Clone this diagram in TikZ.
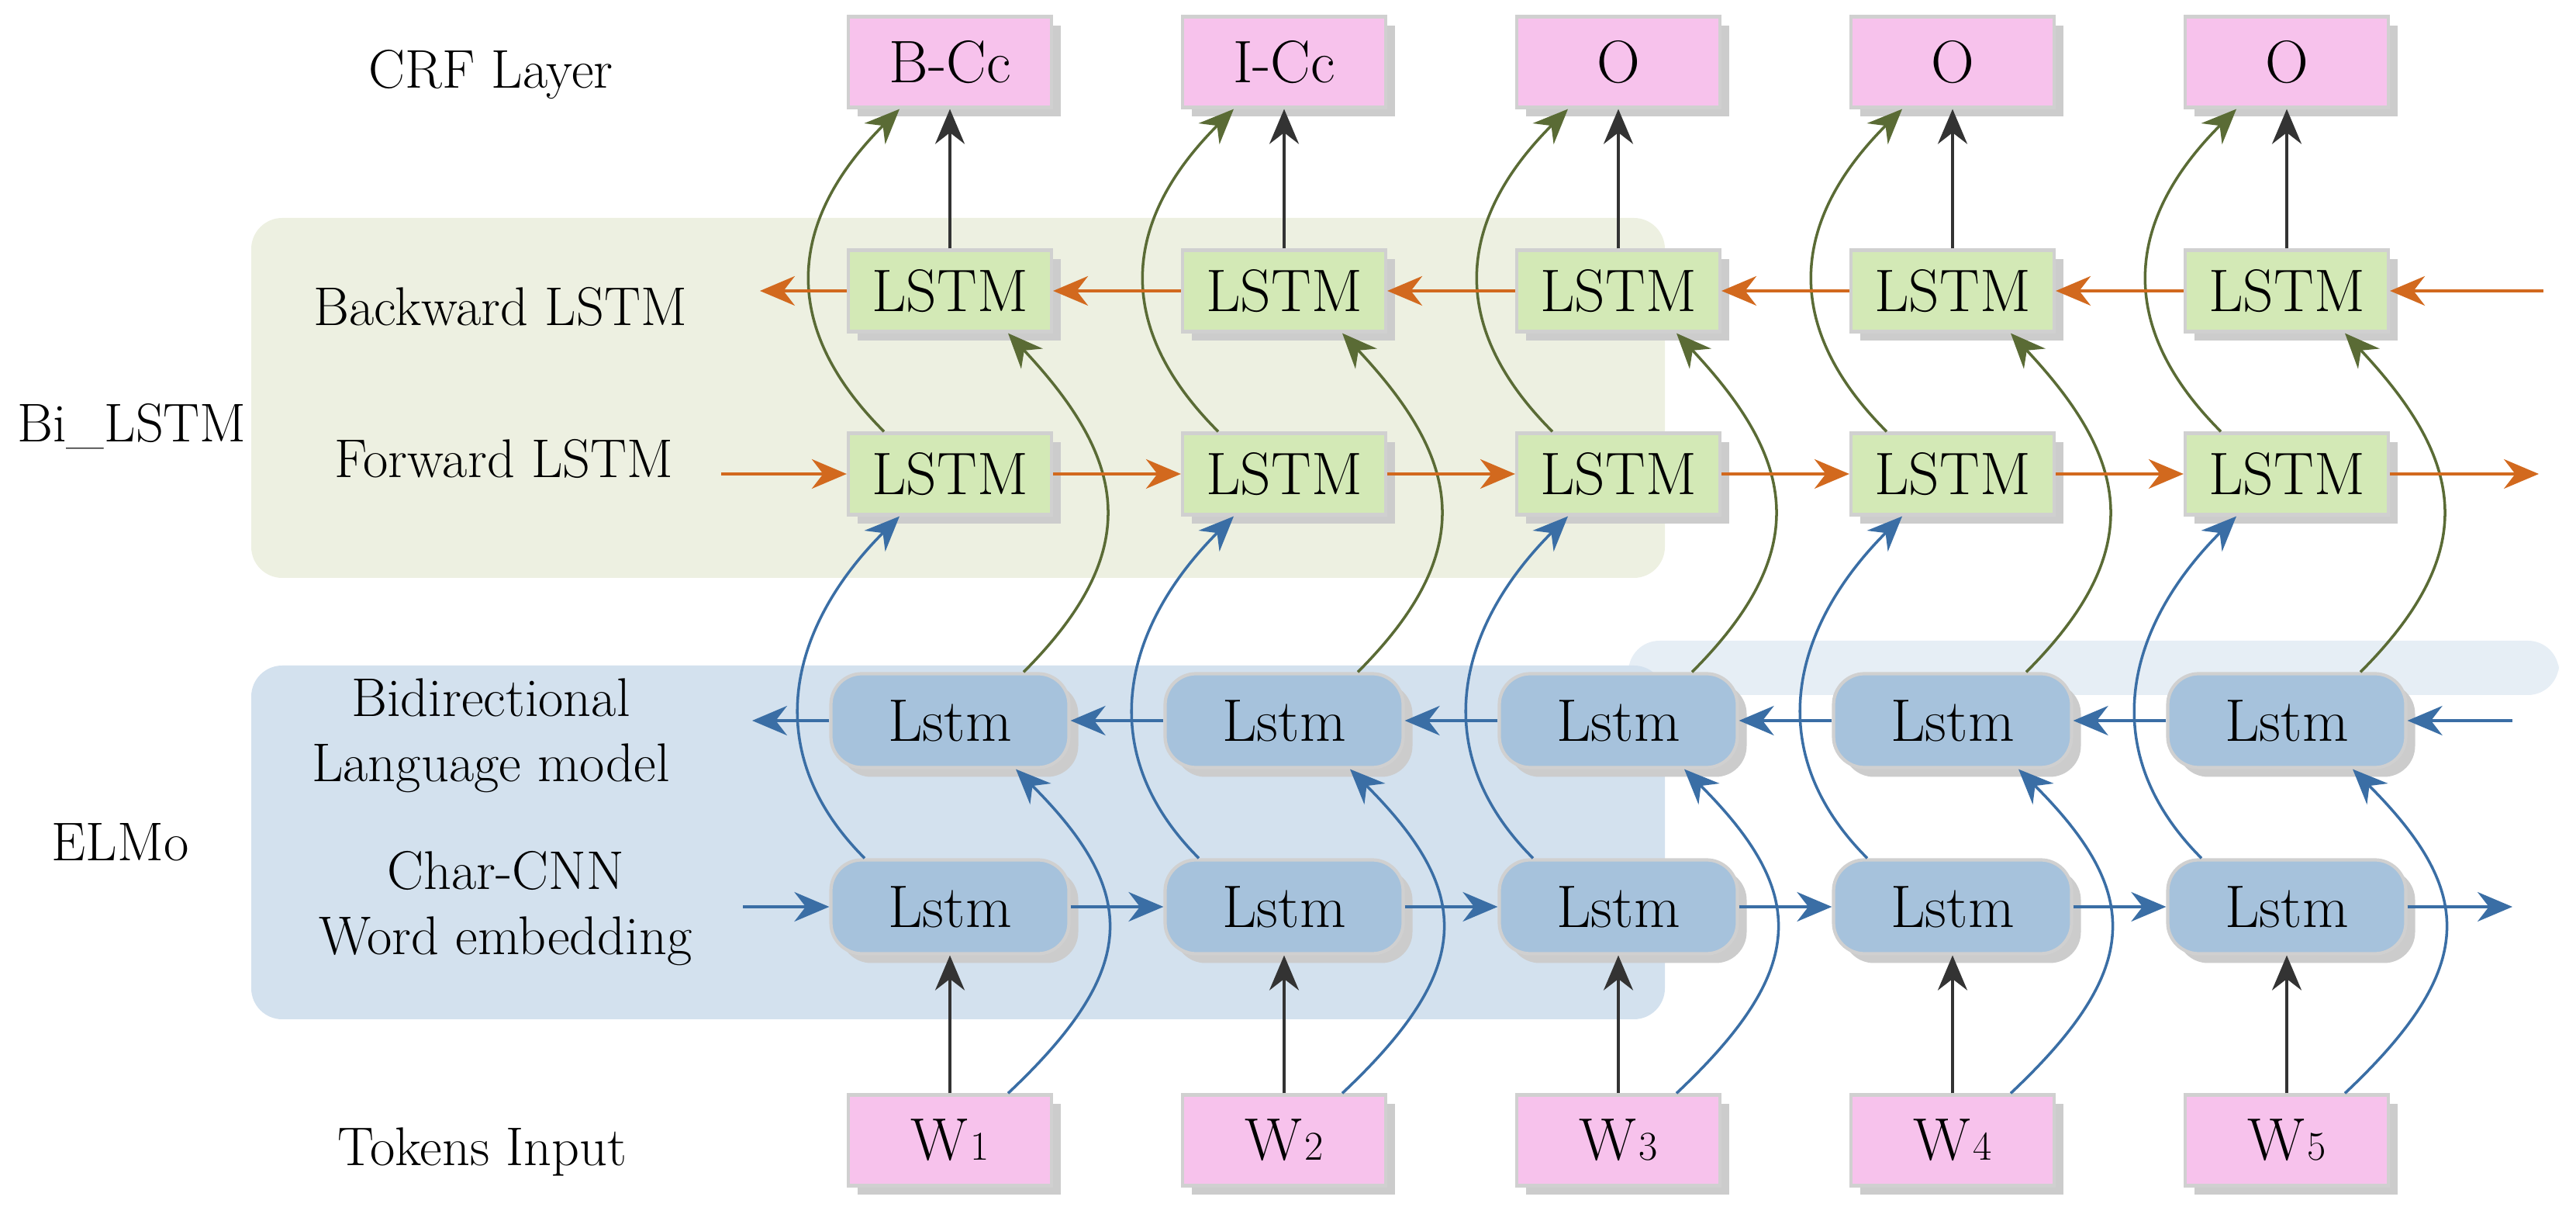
\documentclass[tikz,border=0pt]{standalone}
\usetikzlibrary{arrows.meta,shadows}
\definecolor{pinkf}{HTML}{F7C2EC}
\definecolor{greenf}{HTML}{D3E9B6}
\definecolor{bluef}{HTML}{A6C2DC}
\definecolor{bggreen}{HTML}{EDF0E1}
\definecolor{bgblue}{HTML}{D3E1EE}
\definecolor{bgblue2}{HTML}{E6EEF5}
\definecolor{orangea}{HTML}{D2691E}
\definecolor{bluea}{HTML}{3A6EA5}
\definecolor{greena}{HTML}{5A6B35}
\definecolor{boxline}{HTML}{D0D0D0}
\begin{document}
\begin{tikzpicture}[
  font=\fontsize{20}{24}\selectfont,
  base/.style={draw=boxline,line width=1.2pt,drop shadow={shadow xshift=0.12cm,shadow yshift=-0.12cm,fill=black!20,opacity=1}},
  crf/.style={base,fill=pinkf,minimum width=2.62cm,minimum height=1.17cm,font=\fontsize{22}{24}\selectfont},
  lstm/.style={base,fill=greenf,minimum width=2.62cm,minimum height=1.05cm,font=\fontsize{22}{24}\selectfont},
  lm/.style={base,fill=bluef,rounded corners=0.4cm,minimum width=3.07cm,minimum height=1.21cm,font=\fontsize{22}{24}\selectfont},
  oar/.style={-{Stealth[length=0.45cm,width=0.38cm,fill=orangea]},draw=orangea,line width=1pt},
  bar/.style={-{Stealth[length=0.45cm,width=0.38cm,fill=bluea]},draw=bluea,line width=1pt},
  gar/.style={-{Stealth[length=0.45cm,width=0.38cm,fill=greena]},draw=greena,line width=1pt},
  kar/.style={-{Stealth[length=0.45cm,width=0.38cm,fill=black!80]},draw=black!80,line width=1pt},
  lab/.style={align=center}
]
\useasboundingbox (0,0) rectangle (33.22,15.56);
\fill[bggreen,rounded corners=0.4cm] (3.24,8.11) rectangle (21.47,12.75);
\fill[bgblue2,rounded corners=0.4cm] (21.0,6.6) rectangle (33.0,7.30);
\fill[bgblue,rounded corners=0.4cm] (3.24,2.42) rectangle (21.47,6.98);

\node[lab] (tcrf) at (6.33,14.60) {CRF Layer};
\node[lab] (tbw) at (6.45,11.60) {Backward LSTM};
\node[lab] (tbi) at (1.70,10.06) {Bi\_LSTM};
\node[lab] (tfw) at (6.50,9.64) {Forward LSTM};
\node[lab] (tlm) at (6.33,6.08) {Bidirectional\\Language model};
\node[lab] (telmo) at (1.55,4.70) {ELMo};
\node[lab] (tcnn) at (6.52,3.85) {Char-CNN\\Word embedding};
\node[lab] (ttok) at (6.22,0.71) {Tokens Input};

\foreach \i/\x/\lbl in {1/12.25/B-Cc,2/16.56/I-Cc,3/20.87/O,4/25.18/O,5/29.49/O}{
  \node[crf] (c\i) at (\x,14.76) {\lbl};
  \node[lstm] (b\i) at (\x,11.81) {LSTM};
  \node[lstm] (f\i) at (\x,9.45) {LSTM};
  \node[lm] (l\i) at (\x,6.27) {Lstm};
  \node[lm] (e\i) at (\x,3.87) {Lstm};
  \node[crf] (w\i) at (\x,0.86) {W\kern1pt{\fontsize{15}{15}\selectfont\i}};
  \draw[kar] (b\i.north) -- (c\i.south);
  \draw[kar] (w\i.north) -- (e\i.south);
  \draw[gar] ([xshift=-0.85cm]f\i.north) .. controls +(-1.4,1.4) and +(-1.4,-1.4) .. ([xshift=-0.65cm]c\i.south);
  \draw[gar] ([xshift=0.95cm]l\i.north) .. controls +(1.6,1.6) and +(1.5,-1.6) .. ([xshift=0.75cm]b\i.south);
  \draw[bar] ([xshift=-1.1cm]e\i.north) .. controls +(-1.4,1.4) and +(-1.4,-1.4) .. ([xshift=-0.65cm]f\i.south);
  \draw[bar] ([xshift=0.75cm]w\i.north) .. controls +(1.7,1.6) and +(1.6,-1.6) .. ([xshift=0.85cm]l\i.south);
}
\foreach \a/\b in {1/2,2/3,3/4,4/5}{
  \draw[oar] (b\b.west) -- (b\a.east);
  \draw[oar] (f\a.east) -- (f\b.west);
  \draw[bar] (l\b.west) -- (l\a.east);
  \draw[bar] (e\a.east) -- (e\b.west);
}
\coordinate (bl) at (9.80,11.81); \coordinate (br) at (32.80,11.81);
\coordinate (fl) at (9.30,9.45); \coordinate (fr) at (32.74,9.45);
\coordinate (ll) at (9.70,6.27); \coordinate (lr) at (32.40,6.27);
\coordinate (el) at (9.58,3.87); \coordinate (er) at (32.40,3.87);
\draw[oar] (b1.west) -- (bl);
\draw[oar] (br) -- (b5.east);
\draw[oar] (fl) -- (f1.west);
\draw[oar] (f5.east) -- (fr);
\draw[bar] (l1.west) -- (ll);
\draw[bar] (lr) -- (l5.east);
\draw[bar] (el) -- (e1.west);
\draw[bar] (e5.east) -- (er);
\end{tikzpicture}
\end{document}
